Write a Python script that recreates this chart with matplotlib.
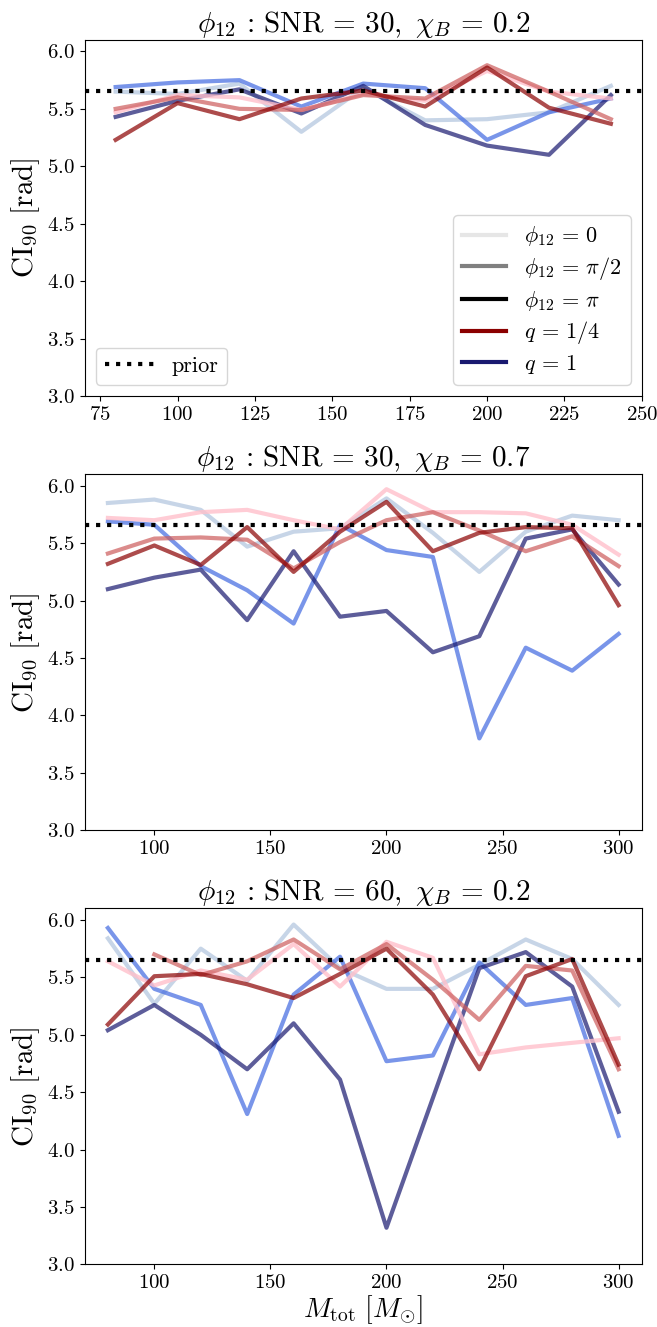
import numpy as np
import matplotlib
matplotlib.use("Agg")
from matplotlib import pyplot as plt
from matplotlib.lines import Line2D
from matplotlib.ticker import MultipleLocator

plt.rcParams['font.family'] = 'cmr10'
plt.rcParams['mathtext.fontset'] = 'cm'
plt.rcParams['axes.formatter.use_mathtext'] = True

prior = 0.9 * 2 * np.pi

# panel 1 : SNR=30, chi_B=0.2
m1 = [80, 100, 120, 140, 160, 180, 200, 220, 240]
p1_q1_0 = [5.65, 5.63, 5.72, 5.30, 5.68, 5.40, 5.41, 5.47, 5.70]
p1_q1_half = [5.69, 5.73, 5.75, 5.52, 5.72, 5.68, 5.23, 5.47, 5.59]
p1_q1_pi = [5.43, 5.57, 5.67, 5.46, 5.70, 5.36, 5.18, 5.10, 5.62]
p1_q4_0 = [5.47, 5.62, 5.60, 5.49, 5.63, 5.57, 5.83, 5.65, 5.59]
p1_q4_half = [5.50, 5.60, 5.50, 5.49, 5.62, 5.59, 5.88, 5.65, 5.41]
p1_q4_pi = [5.23, 5.55, 5.41, 5.59, 5.66, 5.52, 5.86, 5.51, 5.37]

# panel 2 : SNR=30, chi_B=0.7
m2 = [80, 100, 120, 140, 160, 180, 200, 220, 240, 260, 280, 300]
p2_q1_0 = [5.85, 5.88, 5.79, 5.47, 5.60, 5.63, 5.89, 5.59, 5.25, 5.60, 5.74, 5.70]
p2_q1_half = [5.69, 5.66, 5.30, 5.09, 4.80, 5.66, 5.44, 5.38, 3.80, 4.59, 4.39, 4.71]
p2_q1_pi = [5.10, 5.20, 5.27, 4.83, 5.43, 4.86, 4.91, 4.55, 4.69, 5.54, 5.62, 5.14]
p2_q4_0 = [5.72, 5.70, 5.77, 5.79, 5.70, 5.62, 5.97, 5.77, 5.77, 5.76, 5.66, 5.40]
p2_q4_half = [5.41, 5.54, 5.55, 5.53, 5.28, 5.51, 5.70, 5.77, 5.61, 5.43, 5.56, 5.30]
p2_q4_pi = [5.32, 5.48, 5.31, 5.64, 5.25, 5.60, 5.86, 5.43, 5.59, 5.64, 5.63, 4.96]

# panel 3 : SNR=60, chi_B=0.2
m3 = [80, 100, 120, 140, 160, 180, 200, 220, 240, 260, 280, 300]
p3_q1_0 = [5.84, 5.27, 5.75, 5.47, 5.96, 5.58, 5.40, 5.40, 5.61, 5.83, 5.66, 5.26]
p3_q1_half = [5.93, 5.40, 5.26, 4.31, 5.35, 5.68, 4.77, 4.82, 5.63, 5.26, 5.32, 4.12]
p3_q1_pi = [5.04, 5.26, 5.00, 4.70, 5.10, 4.61, 3.32, 4.45, 5.58, 5.72, 5.42, 4.33]
p3_q4_0 = [5.64, 5.43, 5.56, 5.48, 5.79, 5.42, 5.81, 5.67, 4.83, 4.89, 4.93, 4.97]
p3_q4_half = [np.nan, 5.70, 5.52, 5.64, 5.83, 5.57, 5.79, 5.48, 5.13, 5.60, 5.56, 4.70]
p3_q4_pi = [5.09, 5.51, 5.53, 5.44, 5.32, 5.53, 5.75, 5.35, 4.70, 5.51, 5.66, 4.74]

panels = [
    (m1, [p1_q1_0, p1_q1_half, p1_q1_pi, p1_q4_0, p1_q4_half, p1_q4_pi], 30, 0.2, (70, 250), 25),
    (m2, [p2_q1_0, p2_q1_half, p2_q1_pi, p2_q4_0, p2_q4_half, p2_q4_pi], 30, 0.7, (70, 310), 50),
    (m3, [p3_q1_0, p3_q1_half, p3_q1_pi, p3_q4_0, p3_q4_half, p3_q4_pi], 60, 0.2, (70, 310), 50),
]
colors = ['lightsteelblue', 'royalblue', 'midnightblue', 'pink', 'indianred', 'darkred']
alphas = [0.7, 0.7, 0.7, 0.8, 0.7, 0.7]

fig = plt.figure(figsize=(6.57, 13.27), dpi=100)
bottoms = [0.7016, 0.3743, 0.0471]
for k, (m, series, snr, chi, xl, step) in enumerate(panels):
    ax = fig.add_axes([0.1289, bottoms[k], 0.848, 0.2683])
    for s, c, a in zip(series, colors, alphas):
        ax.plot(m, s, color=c, alpha=a, lw=3)
    pl, = ax.plot(xl, [prior, prior], 'k:', lw=3, label='prior')
    ax.set_xlim(xl)
    ax.set_ylim(3.0, 6.1)
    ax.xaxis.set_major_locator(MultipleLocator(step))
    ax.set_yticks(np.arange(3.0, 6.01, 0.5))
    ax.tick_params(labelsize=15)
    ax.set_ylabel(r'$\mathrm{CI}_{90}\ \mathrm{[rad]}$', fontsize=21, labelpad=4)
    ax.set_title(r'$\phi_{12}\,:\,\mathrm{SNR}\,=\,%d,\ \chi_B\,=\,%.1f$' % (snr, chi),
                 fontsize=21)
    if k == 0:
        handles = [Line2D([], [], color='#e6e6e6', lw=3),
                   Line2D([], [], color='gray', lw=3),
                   Line2D([], [], color='black', lw=3),
                   Line2D([], [], color='darkred', lw=3),
                   Line2D([], [], color='midnightblue', lw=3)]
        labels = [r'$\phi_{12}\,=\,0$', r'$\phi_{12}\,=\,\pi/2$', r'$\phi_{12}\,=\,\pi$',
                  r'$q\,=\,1/4$', r'$q\,=\,1$']
        leg1 = ax.legend(handles, labels, loc='lower right', fontsize=16,
                         labelspacing=0.3, handlelength=2.0)
        ax.add_artist(leg1)
        ax.legend(handles=[pl], loc='lower left', fontsize=16, handlelength=2.2)
    if k == 2:
        ax.set_xlabel(r'$M_{\mathrm{tot}}\ [M_{\odot}]$', fontsize=20, labelpad=1)

plt.savefig('out.png', dpi=100)
